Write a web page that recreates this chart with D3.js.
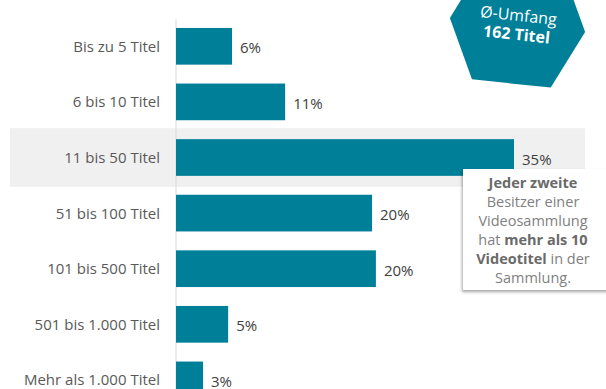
<!DOCTYPE html>
<html lang="de">
<head>
    <meta charset="UTF-8">
    <title>Umfang der Videosammlung</title>
    <script src="https://d3js.org/d3.v7.min.js"></script>
    <style>
        html, body { margin: 0; padding: 0; background: #fff; }
        svg { display: block; font-family: "Open Sans", sans-serif; }
    </style>
</head>
<body>
    <div id="chart"></div>
    <script>
        // Data
        const categories = ["Bis zu 5 Titel", "6 bis 10 Titel", "11 bis 50 Titel", "51 bis 100 Titel",
                            "101 bis 500 Titel", "501 bis 1.000 Titel", "Mehr als 1.000 Titel"];
        const values = [5.8, 11.3, 35, 20.3, 20.7, 5.4, 2.8];
        const valueLabels = ["6%", "11%", "35%", "20%", "20%", "5%", "3%"];
        const highlighted = "11 bis 50 Titel";
        const badgeLines = ["Ø-Umfang", "162 Titel"];
        // callout text: each line is a list of [text, bold]
        const calloutLines = [
            [["Jeder zweite", true]],
            [["Besitzer einer", false]],
            [["Videosammlung", false]],
            [["hat ", false], ["mehr als 10", true]],
            [["Videotitel", true], [" in der", false]],
            [["Sammlung.", false]]
        ];

        const W = 606, H = 389;
        const teal = "#007f99";

        const svg = d3.select("#chart").append("svg")
            .attr("width", W)
            .attr("height", H);

        const defs = svg.append("defs");
        defs.append("filter")
            .attr("id", "shadow")
            .attr("x", "-20%").attr("y", "-20%")
            .attr("width", "140%").attr("height", "140%")
            .append("feDropShadow")
            .attr("dx", -1).attr("dy", 2)
            .attr("stdDeviation", 1.8)
            .attr("flood-color", "#000")
            .attr("flood-opacity", 0.35);

        // Scales
        const x = d3.scaleLinear().domain([0, 35]).range([176, 514]);
        const y = d3.scaleBand()
            .domain(categories)
            .range([18.5, 407.7])
            .paddingInner(0.34)
            .paddingOuter(0.17);

        // highlight band
        svg.append("rect")
            .attr("x", 10)
            .attr("y", y(highlighted) - 11)
            .attr("width", 575)
            .attr("height", y.bandwidth() + 22)
            .attr("fill", "#f0f0f0");

        // axis line
        svg.append("line")
            .attr("x1", x(0)).attr("x2", x(0))
            .attr("y1", 19).attr("y2", H)
            .attr("stroke", "#d9d9d9")
            .attr("stroke-width", 1);

        // bars
        svg.selectAll("rect.bar")
            .data(categories)
            .join("rect")
            .attr("class", "bar")
            .attr("x", x(0))
            .attr("y", d => y(d))
            .attr("width", (d, i) => x(values[i]) - x(0))
            .attr("height", y.bandwidth())
            .attr("fill", teal);

        // category labels
        svg.selectAll("text.cat")
            .data(categories)
            .join("text")
            .attr("class", "cat")
            .attr("x", 160)
            .attr("y", d => y(d) + y.bandwidth() / 2 + 5.5)
            .attr("text-anchor", "end")
            .attr("font-size", "15px")
            .attr("fill", "#595959")
            .text(d => d);

        // value labels
        svg.selectAll("text.val")
            .data(categories)
            .join("text")
            .attr("class", "val")
            .attr("x", (d, i) => x(values[i]) + 8)
            .attr("y", d => y(d) + y.bandwidth() / 2 + 7)
            .attr("font-size", "15px")
            .attr("fill", "#404040")
            .text((d, i) => valueLabels[i]);

        // badge hexagon
        const cx = 517.5, cy = 25, rot = 6;
        const hex = [[-68, 0], [-39.6, 58.8], [39.6, 58.8], [68, 0], [39.6, -58.8], [-39.6, -58.8]];
        const badge = svg.append("g")
            .attr("transform", `translate(${cx},${cy}) rotate(${rot})`);
        badge.append("path")
            .attr("d", d3.line()(hex) + "Z")
            .attr("fill", teal);
        badge.selectAll("text")
            .data(badgeLines)
            .join("text")
            .attr("x", 0)
            .attr("y", (d, i) => -4 + i * 19)
            .attr("text-anchor", "middle")
            .attr("font-size", "16px")
            .attr("font-weight", (d, i) => i === 1 ? "bold" : "normal")
            .attr("fill", "#fff")
            .text(d => d);

        // callout box
        svg.append("rect")
            .attr("x", 463)
            .attr("y", 169)
            .attr("width", 160)
            .attr("height", 121)
            .attr("fill", "#fff")
            .attr("filter", "url(#shadow)");

        const callout = svg.append("text")
            .attr("text-anchor", "middle")
            .attr("font-size", "14.5px")
            .attr("fill", "#7f7f7f");
        calloutLines.forEach((line, i) => {
            const t = callout.append("tspan")
                .attr("x", 533)
                .attr("y", 188 + i * 19);
            line.forEach(([txt, bold]) => {
                t.append("tspan")
                    .attr("font-weight", bold ? "bold" : "normal")
                    .attr("fill", bold ? "#6a6a6a" : "#7f7f7f")
                    .text(txt);
            });
        });
    </script>
</body>
</html>
